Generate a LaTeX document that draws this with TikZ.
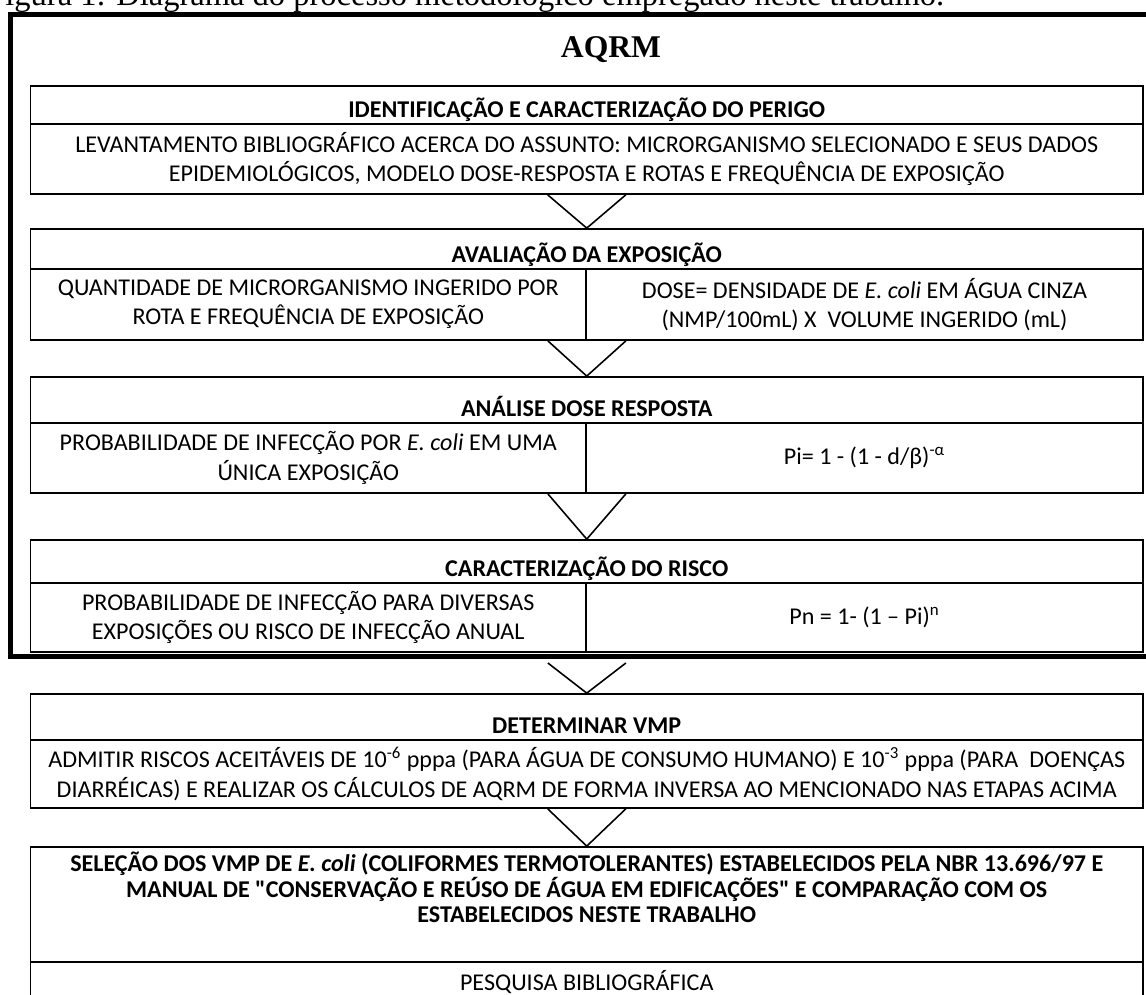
\documentclass[tikz,border=0pt]{standalone}
\usepackage{fontspec}
\setmainfont{Carlito}
\newfontfamily\timesfont{Liberation Serif}
\usetikzlibrary{fit,calc}

\newcommand{\boxfont}{\fontsize{13.7}{16.7}\selectfont}

\tikzset{
  cell/.style={draw, line width=1pt, inner sep=0pt},
  headtxt/.style={font=\boxfont\bfseries, anchor=base, inner sep=0pt},
  bodytxt/.style={font=\boxfont, align=center, inner sep=0pt},
  chevron/.style={draw, line width=0.9pt, line join=miter}
}

\begin{document}
\begin{tikzpicture}[x=0.02cm, y=-0.02cm]

	\useasboundingbox (0,0) rectangle (1146,994);
	\fill[white] (0,0) rectangle (1146,994);
	\clip (0,0) rectangle (1146,994);

	% Caption, cut by the top of the page
	\node[font=\timesfont\fontsize{18.5}{21}\selectfont, anchor=base west, inner sep=0pt] (caption) at (-13,5.5)
		{Figura 1: Diagrama do processo metodológico empregado neste trabalho.};

	% Thick frame round the AQRM steps
	\node[draw, line width=3.4pt, inner sep=0pt, fit={(10.5,14.5) (1190,656.5)}] (frame) {};
	\node[font=\timesfont\bfseries\fontsize{18}{20}\selectfont, anchor=base, inner sep=0pt] (aqrm) at (611,57.5) {AQRM};

	% One-column steps: name/top/header line/bottom
	\foreach \n/\t/\m/\b in {ident/86/124/194, vmp/694/740/808, selec/847/962/1030} {
			\node[cell, fit={(30.5,\t) (1143,\m)}] (\n-head) {};
			\node[cell, fit={(30.5,\m) (1143,\b)}] (\n-body) {};
		}

	% Two-column steps: name/top/header line/bottom
	\foreach \n/\t/\m/\b in {expo/229/269/340, dose/377/423/493, risco/540/583/652} {
			\node[cell, fit={(30.5,\t) (1143,\m)}] (\n-head) {};
			\node[cell, fit={(30.5,\m) (586,\b)}] (\n-left) {};
			\node[cell, fit={(586,\m) (1143,\b)}] (\n-right) {};
		}

	% Titles of the steps
	\foreach \n/\title in {
			ident/IDENTIFICAÇÃO E CARACTERIZAÇÃO DO PERIGO,
			expo/AVALIAÇÃO DA EXPOSIÇÃO,
			dose/ANÁLISE DOSE RESPOSTA,
			risco/CARACTERIZAÇÃO DO RISCO,
			vmp/DETERMINAR VMP} {
			\node[headtxt] (\n-title) at ($(\n-head.south)+(0,-7.5)$) {\title};
		}

	% Texts of the cells
	\node[bodytxt] (ident-text) at (ident-body) {LEVANTAMENTO BIBLIOGRÁFICO ACERCA DO ASSUNTO: MICRORGANISMO SELECIONADO E SEUS DADOS\\EPIDEMIOLÓGICOS, MODELO DOSE-RESPOSTA E ROTAS E FREQUÊNCIA DE EXPOSIÇÃO};
	\node[bodytxt] (expo-ltext) at (expo-left) {QUANTIDADE DE MICRORGANISMO INGERIDO POR\\ROTA E FREQUÊNCIA DE EXPOSIÇÃO};
	\node[bodytxt] (expo-rtext) at (expo-right) {DOSE= DENSIDADE DE \textit{E. coli} EM ÁGUA CINZA\\(NMP/100mL) X\ \ VOLUME INGERIDO (mL)};
	\node[bodytxt] (dose-ltext) at (dose-left) {PROBABILIDADE DE INFECÇÃO POR \textit{E. coli} EM UMA\\ÚNICA EXPOSIÇÃO};
	\node[bodytxt] (dose-rtext) at (dose-right) {Pi= 1 - (1 - d/β)\textsuperscript{-α}};
	\node[bodytxt] (risco-ltext) at (risco-left) {PROBABILIDADE DE INFECÇÃO PARA DIVERSAS\\EXPOSIÇÕES OU RISCO DE INFECÇÃO ANUAL};
	\node[bodytxt] (risco-rtext) at (risco-right) {Pn = 1- (1 – Pi)\textsuperscript{n}};
	\node[bodytxt] (vmp-text) at (vmp-body) {ADMITIR RISCOS ACEITÁVEIS DE 10\textsuperscript{-6} pppa (PARA ÁGUA DE CONSUMO HUMANO) E 10\textsuperscript{-3} pppa (PARA\ \ DOENÇAS\\DIARRÉICAS) E REALIZAR OS CÁLCULOS DE AQRM DE FORMA INVERSA AO MENCIONADO NAS ETAPAS ACIMA};
	\node[bodytxt, font=\fontsize{13.7}{14.3}\selectfont\bfseries, anchor=north] (selec-title) at (586.75,852)
		{SELEÇÃO DOS VMP DE \textit{E. coli} (COLIFORMES TERMOTOLERANTES) ESTABELECIDOS PELA NBR 13.696/97 E\\MANUAL DE \textquotedbl CONSERVAÇÃO E REÚSO DE ÁGUA EM EDIFICAÇÕES\textquotedbl{} E COMPARAÇÃO COM OS\\ESTABELECIDOS NESTE TRABALHO};
	\node[bodytxt, anchor=base] (selec-text) at (586.75,990.5) {PESQUISA BIBLIOGRÁFICA};

	% Chevrons between the steps
	\coordinate (frame-out) at ($(risco-left.south east |- frame.south)+(0,3.5)$);
	\foreach \a/\b in {
			ident-body.south/expo-head.north,
			expo-left.south east/dose-head.north,
			dose-left.south east/risco-head.north,
			frame-out/vmp-head.north,
			vmp-body.south/selec-head.north} {
			\draw[chevron] ($(\a)+(-39,0)$) -- (\b) -- ($(\a)+(39,0)$);
		}

\end{tikzpicture}
\end{document}
